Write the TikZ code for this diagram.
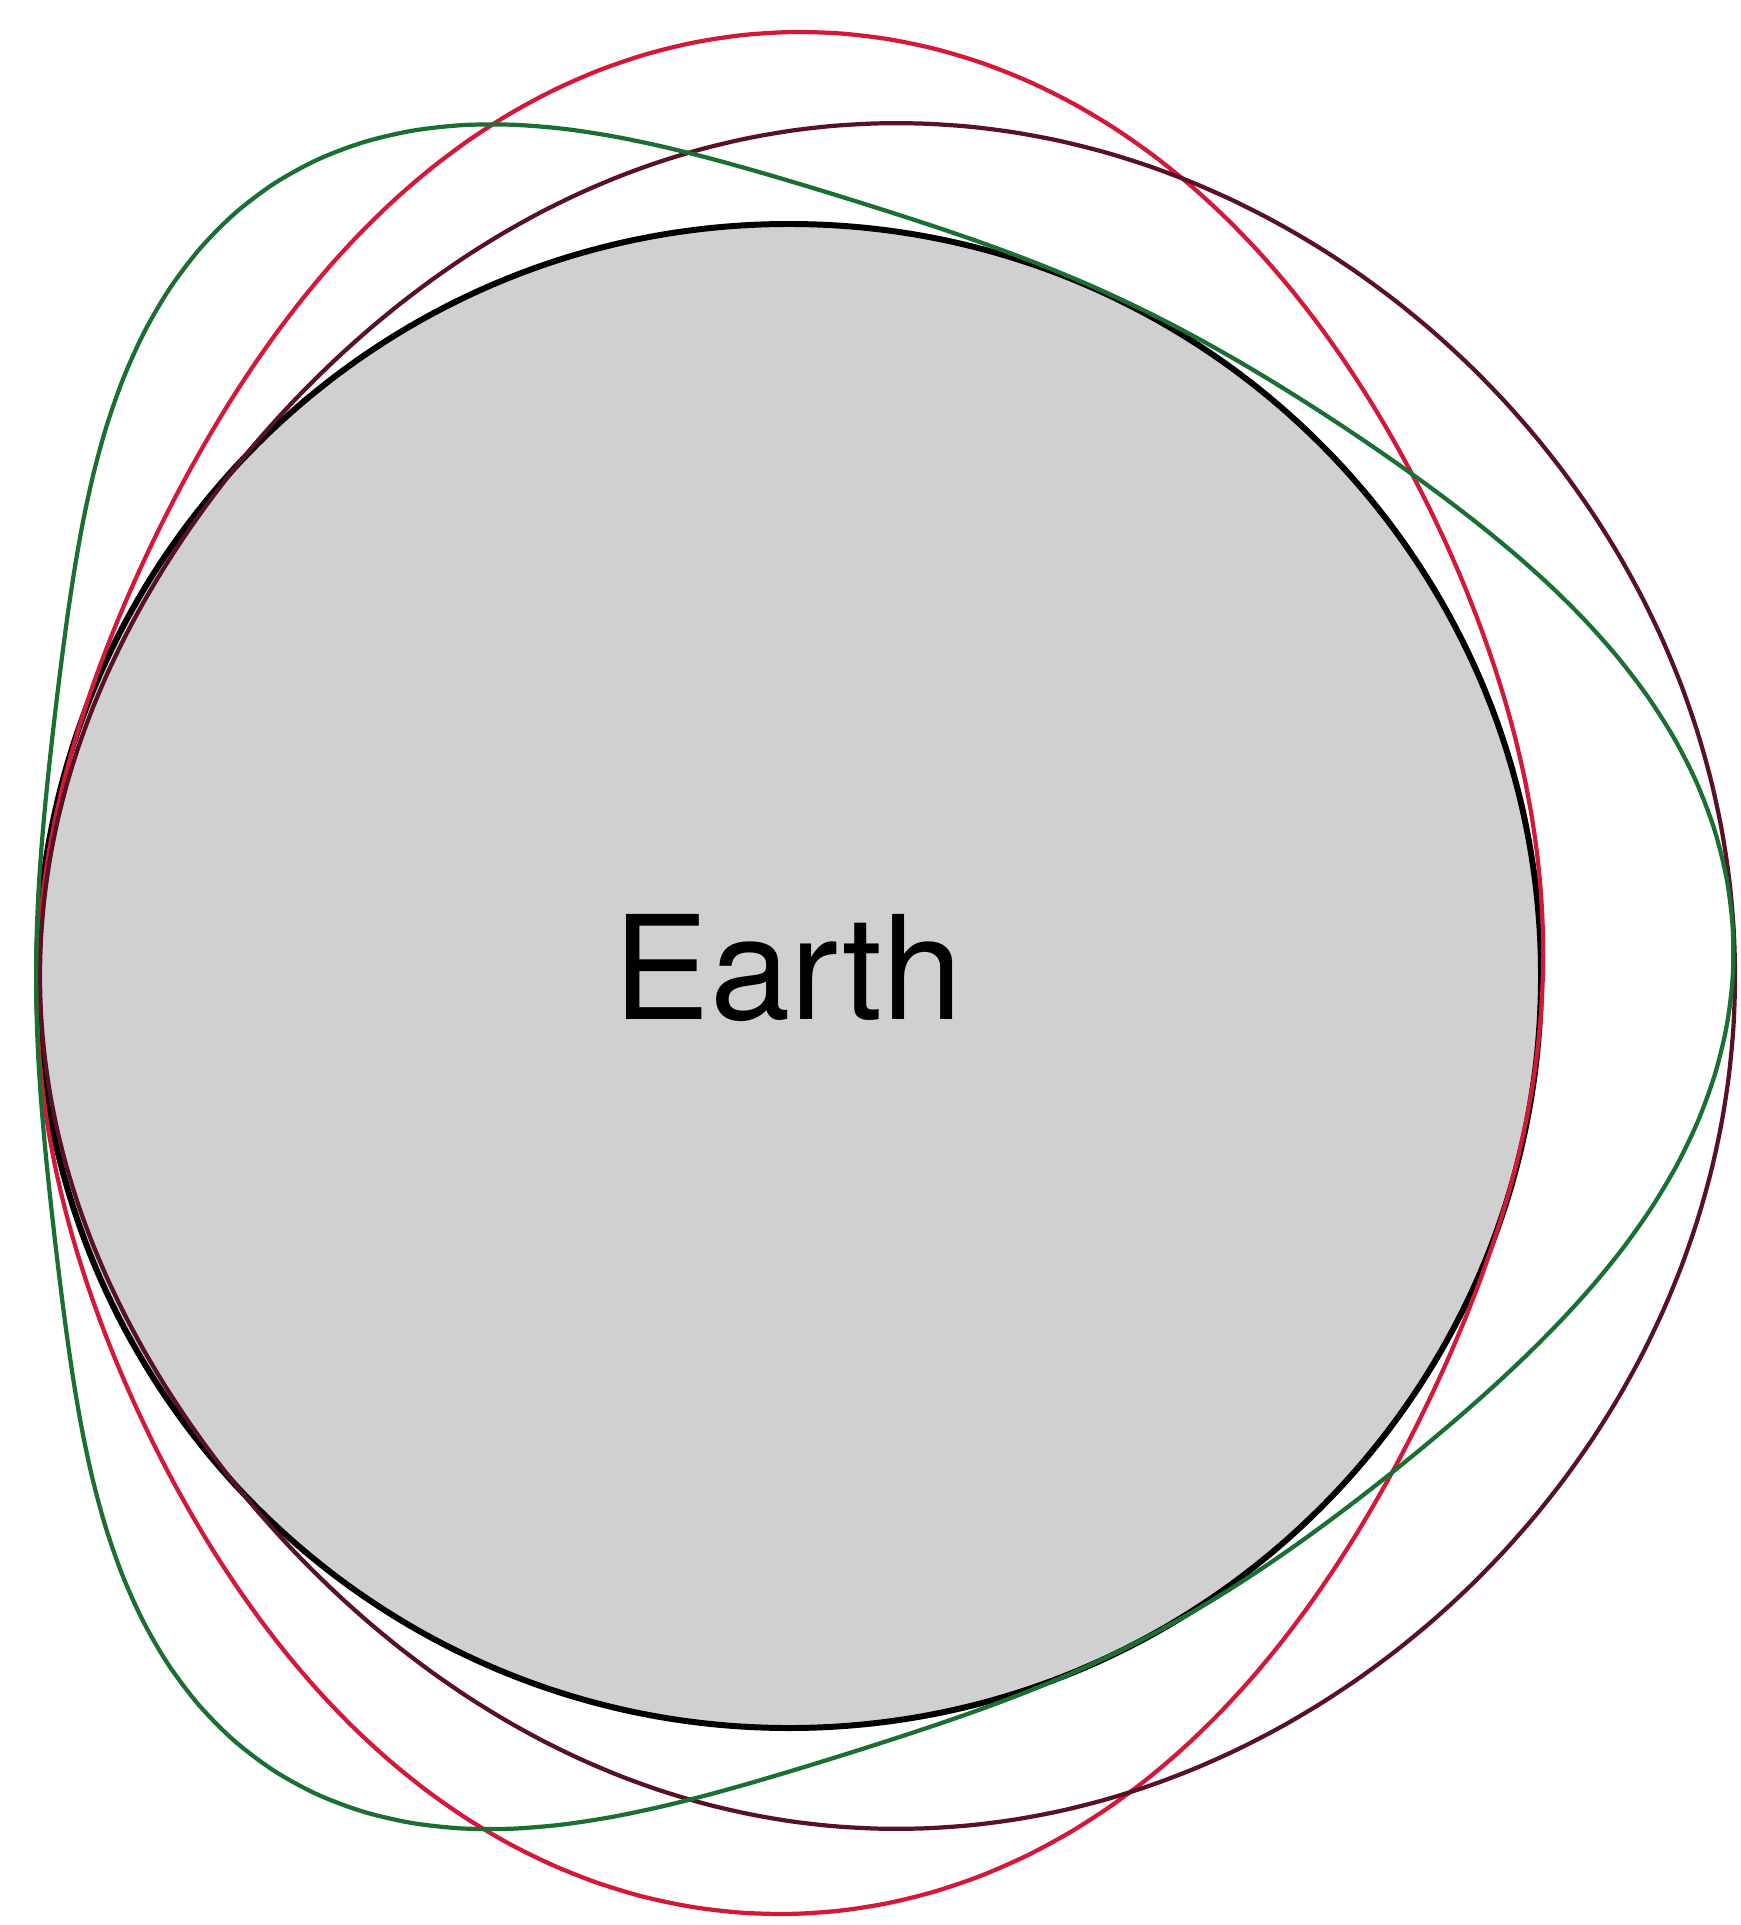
\documentclass[tikz,border=0pt]{standalone}
\usepackage{fontspec}
\setmainfont{TeX Gyre Heros}
\definecolor{earthgray}{RGB}{208,208,208}
\definecolor{tidered}{RGB}{212,24,58}
\definecolor{tidemaroon}{RGB}{88,18,36}
\definecolor{tidegreen}{RGB}{26,112,50}
\tikzset{
  shell/.style={line width=1.2pt, line join=round},
}
\begin{document}
\begin{tikzpicture}[x=0.01cm, y=-0.01cm,
  declare function={
    rtwo(\t)=827-94*cos(2*\t)+9*sin(2*\t)+19.9*cos(4*\t);
    rwide(\t)=839.35+104.75*cos(\t)+1.25*cos(2*\t)-6.25*cos(3*\t)+6.9*cos(4*\t);
    lobe(\d,\n)=(0.5+0.5*cos(\d))^\n;
    rthree(\t)=748+197*lobe(\t-2.5,13)+197*lobe(\t-123,17)+199*lobe(\t+123,17);
  }]
  \useasboundingbox (0,0) rectangle (1740,1925);
  \coordinate (O) at (789,976);
  \fill[earthgray] (O) circle[radius=752];
  \draw[line width=1.7pt] (O) circle[radius=752];
  \node[font=\fontsize{41}{41}\selectfont, anchor=base] (earth) at (788,1019) {Earth};
  % l=2 shape
  \draw[shell, tidered] plot[smooth cycle, domain=0:357, samples=120, variable=\t]
    ({790+rtwo(\t)*cos(\t)}, {973-rtwo(\t)*sin(\t)});
  % shifted shape
  \draw[shell, tidemaroon] plot[smooth cycle, domain=0:357, samples=120, variable=\t]
    ({789+rwide(\t)*cos(\t)}, {976-rwide(\t)*sin(\t)});
  % three lobes
  \draw[shell, tidegreen] plot[smooth cycle, domain=0:357, samples=120, variable=\t]
    ({789+rthree(\t)*cos(\t)}, {976-rthree(\t)*sin(\t)});
\end{tikzpicture}
\end{document}
